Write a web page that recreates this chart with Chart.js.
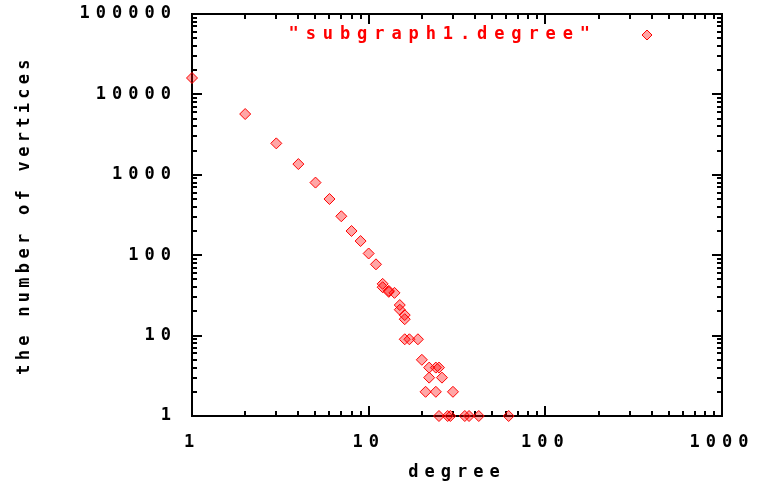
<!DOCTYPE html>
<html>
<head>
<meta charset="utf-8">
<script src="https://cdn.jsdelivr.net/npm/chart.js@4.4.1/dist/chart.umd.min.js"></script>
<style>
    html, body { margin: 0; padding: 0; background: #fff; }
</style>
</head>
<body>
<canvas id="degreeChart" width="767" height="485"></canvas>
<script>
'use strict';

// ── Data ──────────────────────────────────────────────────
const seriesLabel = '"subgraph1.degree"';
const degrees  = [1, 2, 3, 4, 5, 6, 7, 8, 9, 10, 11,
                  12, 12, 13, 13, 14, 15, 15, 16, 16,
                  16, 17, 19, 20, 22, 24, 25, 22, 26, 21, 24, 30,
                  25, 28, 29, 35, 37, 42, 62];
const vertices = [16000, 5700, 2460, 1360, 800, 500, 305, 200, 150, 105, 77,
                  44, 40, 36, 35, 34, 24, 21, 18, 16,
                  9, 9, 9, 5, 4, 4, 4, 3, 3, 2, 2, 2,
                  1, 1, 1, 1, 1, 1, 1];
const xTickLabels = ['1', '10', '100', '1000'];
const yTickLabels = ['1', '10', '100', '1000', '10000', '100000'];
const xTitle = 'degree';
const yTitle = 'the number of vertices';

const FONT = '"DejaVu Sans Mono"';
const RED = '#ff0000';

// ── Minor + major tick values for one log axis ────────────
function logTicks(labels) {
    const out = [];
    const decades = labels.map(Number);
    decades.forEach((d, i) => {
        if (i === decades.length - 1) { out.push({ value: d }); return; }
        for (let m = 1; m <= 9; m++) out.push({ value: m * d });
    });
    return out;
}

// ── Border, inward ticks, key and y title (gnuplot look) ──
const gnuFrame = {
    id: 'gnuFrame',
    beforeUpdate(chart) { chart.ctx.letterSpacing = '6px'; },
    beforeDraw(chart)   { chart.ctx.letterSpacing = '6px'; },
    beforeDatasetsDraw(chart) {
        const { ctx, chartArea: a, scales: { x, y } } = chart;
        ctx.save();
        ctx.strokeStyle = '#000';
        ctx.lineWidth = 2;
        ctx.strokeRect(a.left, a.top, a.right - a.left, a.bottom - a.top);
        ctx.beginPath();
        x.ticks.forEach(t => {
            const px = Math.round(x.getPixelForValue(t.value));
            const len = t.label ? 10 : 5;
            ctx.moveTo(px, a.bottom); ctx.lineTo(px, a.bottom - len);
            ctx.moveTo(px, a.top);    ctx.lineTo(px, a.top + len);
        });
        y.ticks.forEach(t => {
            const py = Math.round(y.getPixelForValue(t.value));
            const len = t.label ? 10 : 5;
            ctx.moveTo(a.left, py);  ctx.lineTo(a.left + len, py);
            ctx.moveTo(a.right, py); ctx.lineTo(a.right - len, py);
        });
        ctx.stroke();
        ctx.restore();
    },
    afterDraw(chart) {
        const ctx = chart.ctx;
        const a = chart.chartArea;
        ctx.save();
        // key, top right inside the plot
        ctx.font = 'bold 17px ' + FONT;
        ctx.letterSpacing = '6.9px';
        ctx.fillStyle = RED;
        ctx.textAlign = 'right';
        ctx.textBaseline = 'middle';
        ctx.fillText(seriesLabel, 597, 35);
        ctx.fillStyle = 'rgba(255,0,0,0.35)';
        ctx.strokeStyle = RED;
        Chart.helpers.drawPoint(ctx, { pointStyle: 'rectRot', radius: 5, borderWidth: 1 }, 647, 35);
        // y title
        ctx.fillStyle = '#000';
        ctx.letterSpacing = '4.3px';
        ctx.textAlign = 'center';
        ctx.translate(25, (a.top + a.bottom) / 2);
        ctx.rotate(-Math.PI / 2);
        ctx.fillText(yTitle, 0, 0);
        ctx.restore();
    }
};

const points = degrees.map((d, i) => ({ x: d, y: vertices[i] }));

new Chart(document.getElementById('degreeChart'), {
    type: 'scatter',
    data: {
        datasets: [{
            label: seriesLabel,
            data: points,
            pointStyle: 'rectRot',
            pointRadius: 5.5,
            pointBorderWidth: 1,
            borderColor: RED,
            backgroundColor: 'rgba(255,0,0,0.35)',
            clip: false,
        }]
    },
    options: {
        responsive: false,
        animation: false,
        events: [],
        layout: { padding: { top: 14, right: 45, left: 0, bottom: 0 } },
        plugins: { legend: { display: false }, tooltip: { enabled: false } },
        scales: {
            x: {
                type: 'logarithmic',
                min: 1, max: 1000,
                grid: { display: false, drawTicks: false },
                border: { display: false },
                afterBuildTicks: s => { s.ticks = logTicks(xTickLabels); },
                afterFit: s => { s.height = 69; s.paddingLeft = 0; s.paddingRight = 0; },
                ticks: {
                    autoSkip: false, maxRotation: 0, padding: 16,
                    color: '#000', font: { family: FONT, size: 17, weight: 'bold' },
                    callback: v => xTickLabels.includes(String(v)) ? String(v) : '',
                },
                title: {
                    display: true, text: xTitle, color: '#000',
                    font: { family: FONT, size: 17, weight: 'bold' },
                    padding: { top: 0, bottom: 2 },
                },
            },
            y: {
                type: 'logarithmic',
                min: 1, max: 100000,
                grid: { display: false, drawTicks: false },
                border: { display: false },
                afterBuildTicks: s => { s.ticks = logTicks(yTickLabels); },
                afterFit: s => { s.width = 192; s.paddingTop = 0; s.paddingBottom = 0; },
                ticks: {
                    autoSkip: false, padding: 15,
                    color: '#000', font: { family: FONT, size: 17, weight: 'bold' },
                    callback: v => yTickLabels.includes(String(v)) ? String(v) : '',
                },
            },
        },
    },
    plugins: [gnuFrame],
});
</script>
</body>
</html>
